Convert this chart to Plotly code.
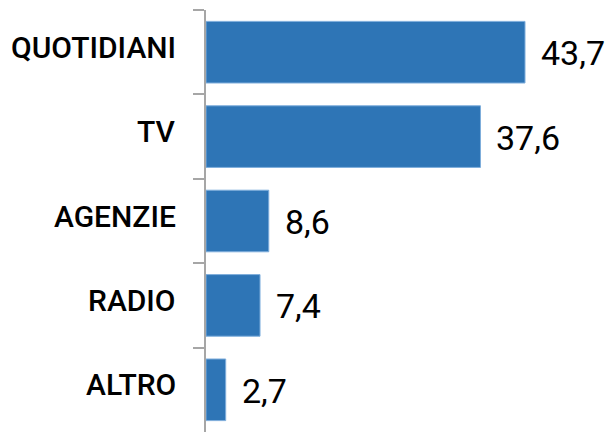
import plotly.graph_objects as go

categories = ["QUOTIDIANI", "TV", "AGENZIE", "RADIO", "ALTRO"]
values = [43.7, 37.6, 8.6, 7.4, 2.7]
value_labels = ["43,7", "37,6", "8,6", "7,4", "2,7"]

BAR_COLOR = "#2E75B6"
AXIS_COLOR = "#A6A6A6"
FONT = "Roboto, Liberation Sans, Arial, sans-serif"

fig = go.Figure(
    go.Bar(
        x=values,
        y=categories,
        orientation="h",
        marker=dict(color=BAR_COLOR, line=dict(color="#7FAEDC", width=1)),
        hoverinfo="skip",
    )
)

# value labels to the right of each bar
for cat, val, lab in zip(categories, values, value_labels):
    fig.add_annotation(
        x=val, y=cat, text=lab, showarrow=False,
        xanchor="left", yanchor="middle", xshift=14, yshift=-1,
        font=dict(family=FONT, size=34, color="#000000"),
    )

# category names left of the axis, sitting slightly above the bar centre
for cat in categories:
    fig.add_annotation(
        xref="paper", x=0, y=cat, yref="y", text=cat, showarrow=False,
        xanchor="right", yanchor="middle", xshift=-28, yshift=5,
        font=dict(family=FONT, size=30, color="#000000", weight=500),
    )

fig.update_layout(
    width=615, height=432,
    margin=dict(l=206, r=0, t=10, b=0),
    paper_bgcolor="white", plot_bgcolor="white",
    bargap=0.27,
    showlegend=False,
    font=dict(family=FONT, color="#000000"),
)

fig.update_xaxes(
    range=[0, 409 / 7.3],
    visible=False,
)

fig.update_yaxes(
    type="category",
    categoryorder="array",
    categoryarray=categories,
    autorange="reversed",
    showline=True, linecolor=AXIS_COLOR, linewidth=2,
    ticks="outside", tickson="boundaries", ticklen=11,
    tickcolor=AXIS_COLOR, tickwidth=2,
    showticklabels=False,
    showgrid=False, zeroline=False,
)

fig.write_html("out.html")
